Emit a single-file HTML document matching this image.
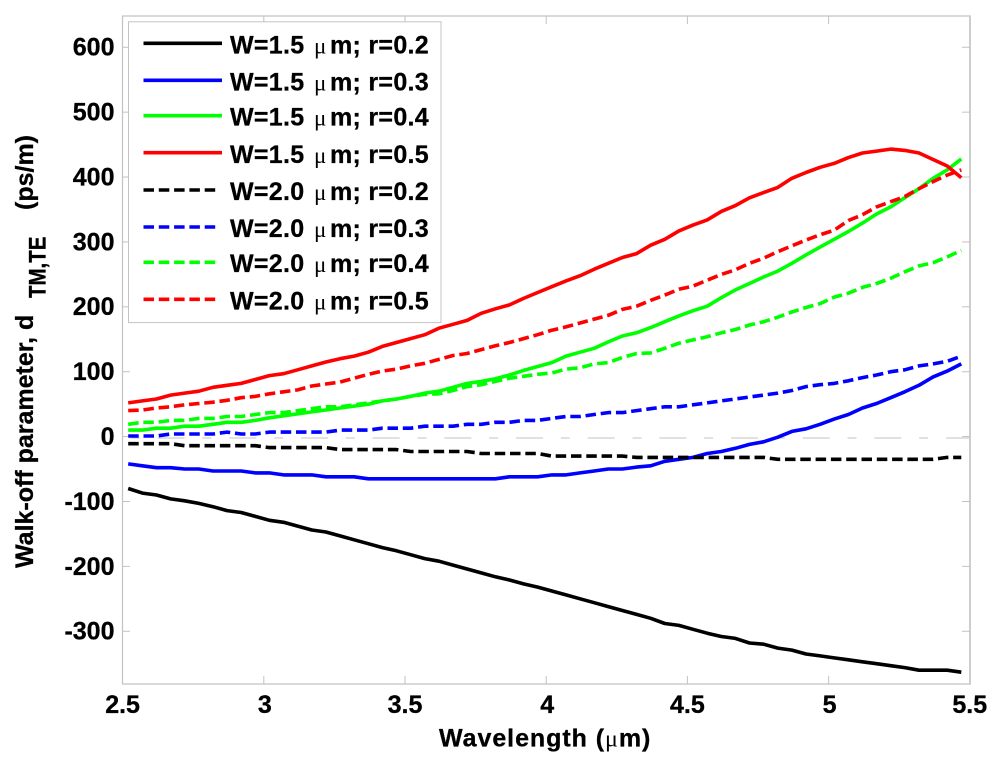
<!DOCTYPE html>
<html lang="en">
<head>
<meta charset="utf-8">
<title>Walk-off parameter vs wavelength</title>
<style>
html,body{margin:0;padding:0;background:#fff;}
svg{display:block;filter:blur(0.35px);}
text{font-family:"Liberation Sans",sans-serif;font-weight:bold;fill:#000;stroke:#000;stroke-width:0.3px;}
.mu{font-family:"Liberation Serif",serif;font-weight:normal;stroke-width:0;}
.leg{font-size:25px;letter-spacing:.3px;}
.leg .mu{font-size:23px;letter-spacing:0;}
</style>
</head>
<body>
<svg id="chart" xmlns="http://www.w3.org/2000/svg" width="1000" height="758" viewBox="0 0 1000 758">
  <defs><clipPath id="plot-clip"><rect x="122.5" y="16" width="848" height="668"/></clipPath></defs>
  <rect x="0" y="0" width="1000" height="758" fill="#fff"/>
  <g id="axes"></g>
  <g id="series" clip-path="url(#plot-clip)"></g>
  <g id="xlabels"></g>
  <g id="ylabels"></g>

  <text x="439" y="746.5" font-size="25" letter-spacing="0.95">Wavelength (<tspan class="mu" font-size="24">μ</tspan>m)</text>
  <g>
    <text transform="translate(33,568) rotate(-90)" font-size="25">Walk-off parameter, d</text>
    <text transform="translate(45.5,298) rotate(-90) scale(0.93,1.08)" font-size="22">TM,TE</text>
    <text transform="translate(33,210) rotate(-90)" font-size="25">(ps/m)</text>
  </g>

  <g>
    <rect x="128.5" y="21.8" width="312.5" height="300.8" fill="#fff" stroke="#c4c4c4" stroke-width="1"/>
    <g><line x1="143.5" x2="222" y1="43.3" y2="43.3" stroke="#000" stroke-width="3.6"/><text class="leg" x="230" y="53.5">W=1.5 <tspan class="mu" x="314">μ</tspan><tspan x="330">m; r=0.2</tspan></text></g>
    <g><line x1="143.5" x2="222" y1="80.3" y2="80.3" stroke="#0000ff" stroke-width="3.6"/><text class="leg" x="230" y="90.5">W=1.5 <tspan class="mu" x="314">μ</tspan><tspan x="330">m; r=0.3</tspan></text></g>
    <g><line x1="143.5" x2="222" y1="115.7" y2="115.7" stroke="#00ff00" stroke-width="3.6"/><text class="leg" x="230" y="125.5">W=1.5 <tspan class="mu" x="314">μ</tspan><tspan x="330">m; r=0.4</tspan></text></g>
    <g><line x1="143.5" x2="222" y1="152.7" y2="152.7" stroke="#ff0000" stroke-width="3.6"/><text class="leg" x="230" y="163">W=1.5 <tspan class="mu" x="314">μ</tspan><tspan x="330">m; r=0.5</tspan></text></g>
    <g><line x1="143.5" x2="218.5" y1="190" y2="190" stroke="#000" stroke-width="3.6" stroke-dasharray="10.5 4.8"/><text class="leg" x="230" y="200">W=2.0 <tspan class="mu" x="314">μ</tspan><tspan x="330">m; r=0.2</tspan></text></g>
    <g><line x1="143.5" x2="218.5" y1="227" y2="227" stroke="#0000ff" stroke-width="3.6" stroke-dasharray="10.5 4.8"/><text class="leg" x="230" y="237">W=2.0 <tspan class="mu" x="314">μ</tspan><tspan x="330">m; r=0.3</tspan></text></g>
    <g><line x1="143.5" x2="218.5" y1="262.3" y2="262.3" stroke="#00ff00" stroke-width="3.6" stroke-dasharray="10.5 4.8"/><text class="leg" x="230" y="272">W=2.0 <tspan class="mu" x="314">μ</tspan><tspan x="330">m; r=0.4</tspan></text></g>
    <g><line x1="143.5" x2="218.5" y1="299.3" y2="299.3" stroke="#ff0000" stroke-width="3.6" stroke-dasharray="10.5 4.8"/><text class="leg" x="230" y="309.5">W=2.0 <tspan class="mu" x="314">μ</tspan><tspan x="330">m; r=0.5</tspan></text></g>
  </g>
</svg>
<script>
const wavelengths = [2.52,2.57,2.62,2.67,2.72,2.77,2.82,2.87,2.92,2.97,3.02,3.07,3.12,3.17,3.22,3.27,3.32,3.37,3.42,3.47,3.52,3.57,3.62,3.67,3.72,3.77,3.82,3.87,3.92,3.97,4.02,4.07,4.12,4.17,4.22,4.27,4.32,4.37,4.42,4.47,4.52,4.57,4.62,4.67,4.72,4.77,4.82,4.87,4.92,4.97,5.02,5.07,5.12,5.17,5.22,5.27,5.32,5.37,5.42,5.47];
const w15r02 = [-80,-87,-90,-96,-99,-103,-108,-114,-117,-123,-129,-132,-138,-144,-147,-153,-159,-165,-171,-176,-182,-188,-192,-198,-204,-210,-216,-221,-227,-232,-238,-244,-250,-256,-262,-268,-274,-280,-288,-291,-297,-303,-308,-311,-318,-320,-326,-329,-335,-338,-341,-344,-347,-350,-353,-356,-360,-360,-360,-363];
const w15r03 = [-42,-45,-48,-48,-50,-50,-53,-53,-53,-56,-56,-59,-59,-59,-62,-62,-62,-65,-65,-65,-65,-65,-65,-65,-65,-65,-65,-62,-62,-62,-59,-59,-56,-53,-50,-50,-47,-45,-38,-35,-32,-26,-23,-18,-12,-8,-1,8,12,19,27,34,44,51,60,69,79,92,101,112];
const w15r04 = [10,10,13,13,16,16,19,22,22,25,29,32,35,38,41,44,47,50,55,58,62,67,70,76,82,85,89,95,102,108,114,124,130,136,146,155,160,168,177,186,194,201,214,226,236,246,255,267,280,292,304,316,329,343,354,368,382,398,411,428];
const w15r05 = [52,55,58,64,67,70,76,79,82,88,94,97,103,109,115,120,124,130,139,145,151,157,167,173,179,190,197,203,213,222,231,240,248,258,267,276,282,295,304,317,326,334,347,356,368,376,384,398,407,415,421,430,437,440,443,441,437,427,417,399];
const w20r02 = [-11,-11,-11,-11,-14,-14,-14,-14,-14,-14,-17,-17,-17,-17,-17,-20,-20,-20,-20,-20,-23,-23,-23,-23,-23,-26,-26,-26,-26,-26,-30,-30,-30,-30,-30,-30,-32,-32,-32,-32,-32,-32,-32,-32,-32,-32,-35,-35,-35,-35,-35,-35,-35,-35,-35,-35,-35,-35,-32,-32];
const w20r03 = [1,1,1,4,4,4,4,7,4,4,7,7,7,7,7,10,10,10,13,13,13,16,16,16,19,19,22,22,25,25,28,31,31,34,37,37,40,43,46,46,49,52,55,58,61,64,67,71,77,80,82,86,91,95,100,103,109,112,116,124];
const w20r04 = [19,22,22,25,25,28,28,31,31,34,37,37,40,43,46,46,49,52,55,58,62,65,66,71,77,80,85,90,93,96,98,104,106,112,114,122,128,129,136,144,149,154,160,165,172,177,184,192,199,205,215,221,230,236,244,254,263,268,277,287];
const w20r05 = [40,41,44,46,49,51,53,56,60,62,66,69,72,78,81,84,90,96,101,104,109,113,119,125,128,134,140,145,151,157,164,169,175,181,187,196,201,210,218,227,232,241,250,257,267,275,285,294,303,311,318,333,342,354,362,370,382,393,403,411];
const xTickValues = [2.5,3,3.5,4,4.5,5,5.5];
const yTickValues = [600,500,400,300,200,100,0,-100,-200,-300];

const NS = 'http://www.w3.org/2000/svg';
function xScale(v){ return 122.6 + (v - 2.5) * 282.4; }
function yScale(v){ return 436.6 - v * 0.6489; }
function make(tag, attrs, parent){
  const el = document.createElementNS(NS, tag);
  for (const k in attrs) el.setAttribute(k, attrs[k]);
  parent.appendChild(el);
  return el;
}
const axesG = document.getElementById('axes');
const seriesG = document.getElementById('series');
const xLabG = document.getElementById('xlabels');
const yLabG = document.getElementById('ylabels');
const AXIS = '#c2c2c2';

const zeroLine = make('line', {x1:86, x2:971, y1:yScale(-2.2), y2:yScale(-2.2), stroke:'#cfcfcf', 'stroke-width':1.2, 'stroke-dasharray':'27 17.8 9 17.87'}, axesG);


zeroLine.setAttribute('clip-path', 'url(#plot-clip)');

const frameLeft = make('line', {x1:122.5, x2:122.5, y1:16, y2:684, stroke:AXIS, 'stroke-width':1.2}, axesG);


const frameBottom = make('line', {x1:122, x2:971, y1:684, y2:684, stroke:AXIS, 'stroke-width':1.2}, axesG);


const frameTop = make('line', {x1:122, x2:971, y1:16, y2:16, stroke:AXIS, 'stroke-width':1.2}, axesG);


const frameRight = make('line', {x1:970, x2:970, y1:16, y2:684, stroke:'#cdcdcd', 'stroke-width':2}, axesG);



xTickValues.forEach(function(v){
  const x = xScale(v);
  if (v > 2.5 && v < 5.5) {
    const b = make('line', {x1:x, x2:x, y1:684, y2:676, stroke:AXIS, 'stroke-width':1}, axesG);
    
    
    const t = make('line', {x1:x, x2:x, y1:16, y2:24, stroke:AXIS, 'stroke-width':1}, axesG);
    
    
  }
  const lab = make('text', {x:x + (v === 3 || v === 4 || v === 5 ? 1 : 0), y:713, 'text-anchor':'middle', 'font-size':25}, xLabG);
  
  
  lab.textContent = String(v);
});
yTickValues.forEach(function(v){
  const y = yScale(v);
  const l = make('line', {x1:122.5, x2:130, y1:y, y2:y, stroke:AXIS, 'stroke-width':1}, axesG);
  
  
  const r = make('line', {x1:970, x2:962, y1:y, y2:y, stroke:AXIS, 'stroke-width':1}, axesG);
  
  
  const lab = make('text', {x:114.5, y:y + 8.4, 'text-anchor':'end', 'font-size':25}, yLabG);
  
  
  lab.textContent = String(v);
});

function drawSeries(values, colour, dashed, name){
  const pts = values.map(function(v, i){ return xScale(wavelengths[i]).toFixed(1) + ',' + yScale(v).toFixed(1); }).join(' ');
  const line = make('polyline', {points:pts, fill:'none', stroke:colour, 'stroke-width':3.6, 'stroke-linejoin':'round'}, seriesG);
  if (dashed) line.setAttribute('stroke-dasharray', '10.5 4.8');
  
  
}
drawSeries(w15r02, '#000000', false, 'series-w15-r02');
drawSeries(w15r03, '#0000ff', false, 'series-w15-r03');
drawSeries(w15r04, '#00ff00', false, 'series-w15-r04');
drawSeries(w15r05, '#ff0000', false, 'series-w15-r05');
drawSeries(w20r02, '#000000', true, 'series-w20-r02');
drawSeries(w20r03, '#0000ff', true, 'series-w20-r03');
drawSeries(w20r04, '#00ff00', true, 'series-w20-r04');
drawSeries(w20r05, '#ff0000', true, 'series-w20-r05');
</script>
</body>
</html>
